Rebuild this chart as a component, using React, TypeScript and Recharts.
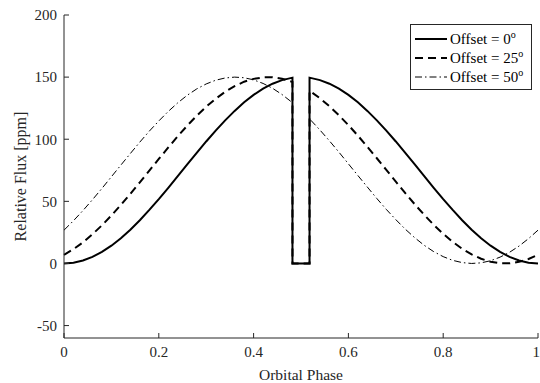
import { Legend, Line, LineChart, XAxis, YAxis } from 'recharts';

// orbital phase samples (duplicate phases at the eclipse edges give the vertical drop)
const PHASE = [
  0, 0.02, 0.04, 0.06, 0.08, 0.1, 0.12, 0.14, 0.16, 0.18, 0.2, 0.22, 0.24, 0.26, 0.28, 0.3,
  0.32, 0.34, 0.36, 0.38, 0.4, 0.42, 0.44, 0.46, 0.48, 0.482, 0.482, 0.5, 0.518, 0.518,
  0.52, 0.54, 0.56, 0.58, 0.6, 0.62, 0.64, 0.66, 0.68, 0.7, 0.72, 0.74, 0.76, 0.78, 0.8,
  0.82, 0.84, 0.86, 0.88, 0.9, 0.92, 0.94, 0.96, 0.98, 1,
];

const OFFSET_0 = [
  0, 0.6, 2.4, 5.3, 9.3, 14.3, 20.3, 27.2, 34.8, 43.1, 51.8, 60.9, 70.3, 79.7, 89.1, 98.2,
  106.9, 115.2, 122.8, 129.7, 135.7, 140.7, 144.7, 147.6, 149.4, 149.5, 0, 0, 0, 149.5,
  149.4, 147.6, 144.7, 140.7, 135.7, 129.7, 122.8, 115.2, 106.9, 98.2, 89.1, 79.7, 70.3, 60.9, 51.8,
  43.1, 34.8, 27.2, 20.3, 14.3, 9.3, 5.3, 2.4, 0.6, 0,
];

const OFFSET_25 = [
  7.0, 11.5, 17.0, 23.5, 30.7, 38.6, 47.1, 56.1, 65.3, 74.7, 84.1, 93.4, 102.4, 110.9, 118.9, 126.2,
  132.6, 138.2, 142.7, 146.3, 148.6, 149.8, 149.9, 148.7, 146.4, 146.1, 0, 0, 0, 138.9,
  138.5, 133.0, 126.5, 119.3, 111.4, 102.9, 93.9, 84.7, 75.3, 65.9, 56.6, 47.6, 39.1, 31.1, 23.9,
  17.4, 11.8, 7.3, 3.8, 1.4, 0.2, 0.1, 1.3, 3.6, 7.0,
];

const OFFSET_50 = [
  26.8, 34.4, 42.6, 51.3, 60.4, 69.8, 79.2, 88.5, 97.7, 106.5, 114.7, 122.4, 129.3, 135.4, 140.5, 144.5,
  147.5, 149.3, 150.0, 149.5, 147.8, 144.9, 141.0, 136.0, 130.0, 129.4, 0, 0, 0, 116.4,
  115.6, 107.4, 98.7, 89.6, 80.2, 70.8, 61.5, 52.3, 43.5, 35.3, 27.6, 20.7, 14.6, 9.5, 5.5,
  2.5, 0.7, 0, 0.5, 2.2, 5.1, 9.0, 14.0, 20.0, 26.8,
];

const X_TICKS = [0, 0.2, 0.4, 0.6, 0.8, 1];
const Y_TICKS = [-50, 0, 50, 100, 150, 200];

const SERIES = [
  { key: 'o0', label: '0', width: 2, dash: undefined },
  { key: 'o25', label: '25', width: 2, dash: '8 5' },
  { key: 'o50', label: '50', width: 1, dash: '7 3 1.5 3' },
];

const data = PHASE.map((phase, i) => ({
  phase,
  o0: OFFSET_0[i],
  o25: OFFSET_25[i],
  o50: OFFSET_50[i],
}));

const AXIS = '#262626';
const FONT = '"Liberation Serif", "Times New Roman", serif';

const LegendBox = () => (
  <div
    style={{
      width: 122,
      background: '#fff',
      border: `1px solid ${AXIS}`,
      padding: '4px 0 3px 3px',
      fontFamily: FONT,
      fontSize: 15,
      color: '#000',
      boxSizing: 'border-box',
    }}
  >
    {SERIES.map((s) => (
      <div key={s.key} style={{ display: 'flex', alignItems: 'center', height: 19 }}>
        <svg width={34} height={10} style={{ marginRight: 2 }}>
          <line x1={1} y1={5} x2={33} y2={5} stroke="#000" strokeWidth={s.width} strokeDasharray={s.dash} />
        </svg>
        <span style={{ whiteSpace: 'nowrap' }}>
          Offset = {s.label}
          <sup style={{ fontSize: 10 }}>o</sup>
        </span>
      </div>
    ))}
  </div>
);

export default function App() {
  return (
    <div style={{ position: 'absolute', left: 0, top: 0, background: '#fff' }}>
      <LineChart width={540} height={383} data={data} margin={{ top: 15, right: 2, left: 0, bottom: 0 }}>
        <XAxis
          dataKey="phase"
          type="number"
          domain={[0, 1]}
          ticks={X_TICKS}
          height={45}
          stroke={AXIS}
          tickSize={-5}
          tickMargin={13}
          tick={{ fill: AXIS, fontSize: 15, fontFamily: FONT }}
          label={{ value: 'Orbital Phase', position: 'center', dy: 14, fill: AXIS, fontSize: 15.5, fontFamily: FONT }}
        />
        <XAxis
          xAxisId="top"
          dataKey="phase"
          type="number"
          orientation="top"
          domain={[0, 1]}
          ticks={X_TICKS}
          height={0}
          stroke={AXIS}
          tickSize={-5}
          tickFormatter={() => ''}
        />
        <YAxis
          type="number"
          domain={[-60, 200]}
          ticks={Y_TICKS}
          width={64}
          stroke={AXIS}
          tickSize={-5}
          tickMargin={12}
          tick={{ fill: AXIS, fontSize: 15, fontFamily: FONT }}
          label={{ value: 'Relative Flux [ppm]', angle: -90, position: 'center', dx: -12, fill: AXIS, fontSize: 16, fontFamily: FONT }}
        />
        <YAxis
          yAxisId="right"
          orientation="right"
          type="number"
          domain={[-60, 200]}
          ticks={Y_TICKS}
          width={0}
          stroke={AXIS}
          tickSize={-5}
          tickFormatter={() => ''}
        />
        {SERIES.map((s) => (
          <Line
            key={s.key}
            type="linear"
            dataKey={s.key}
            stroke="#000"
            strokeWidth={s.width}
            strokeDasharray={s.dash}
            dot={false}
            activeDot={false}
            isAnimationActive={false}
          />
        ))}
        <Legend
          layout="vertical"
          align="center"
          verticalAlign="middle"
          wrapperStyle={{ position: 'absolute', top: 24, left: 410, width: 'auto' }}
          content={() => <LegendBox />}
        />
      </LineChart>
    </div>
  );
}
